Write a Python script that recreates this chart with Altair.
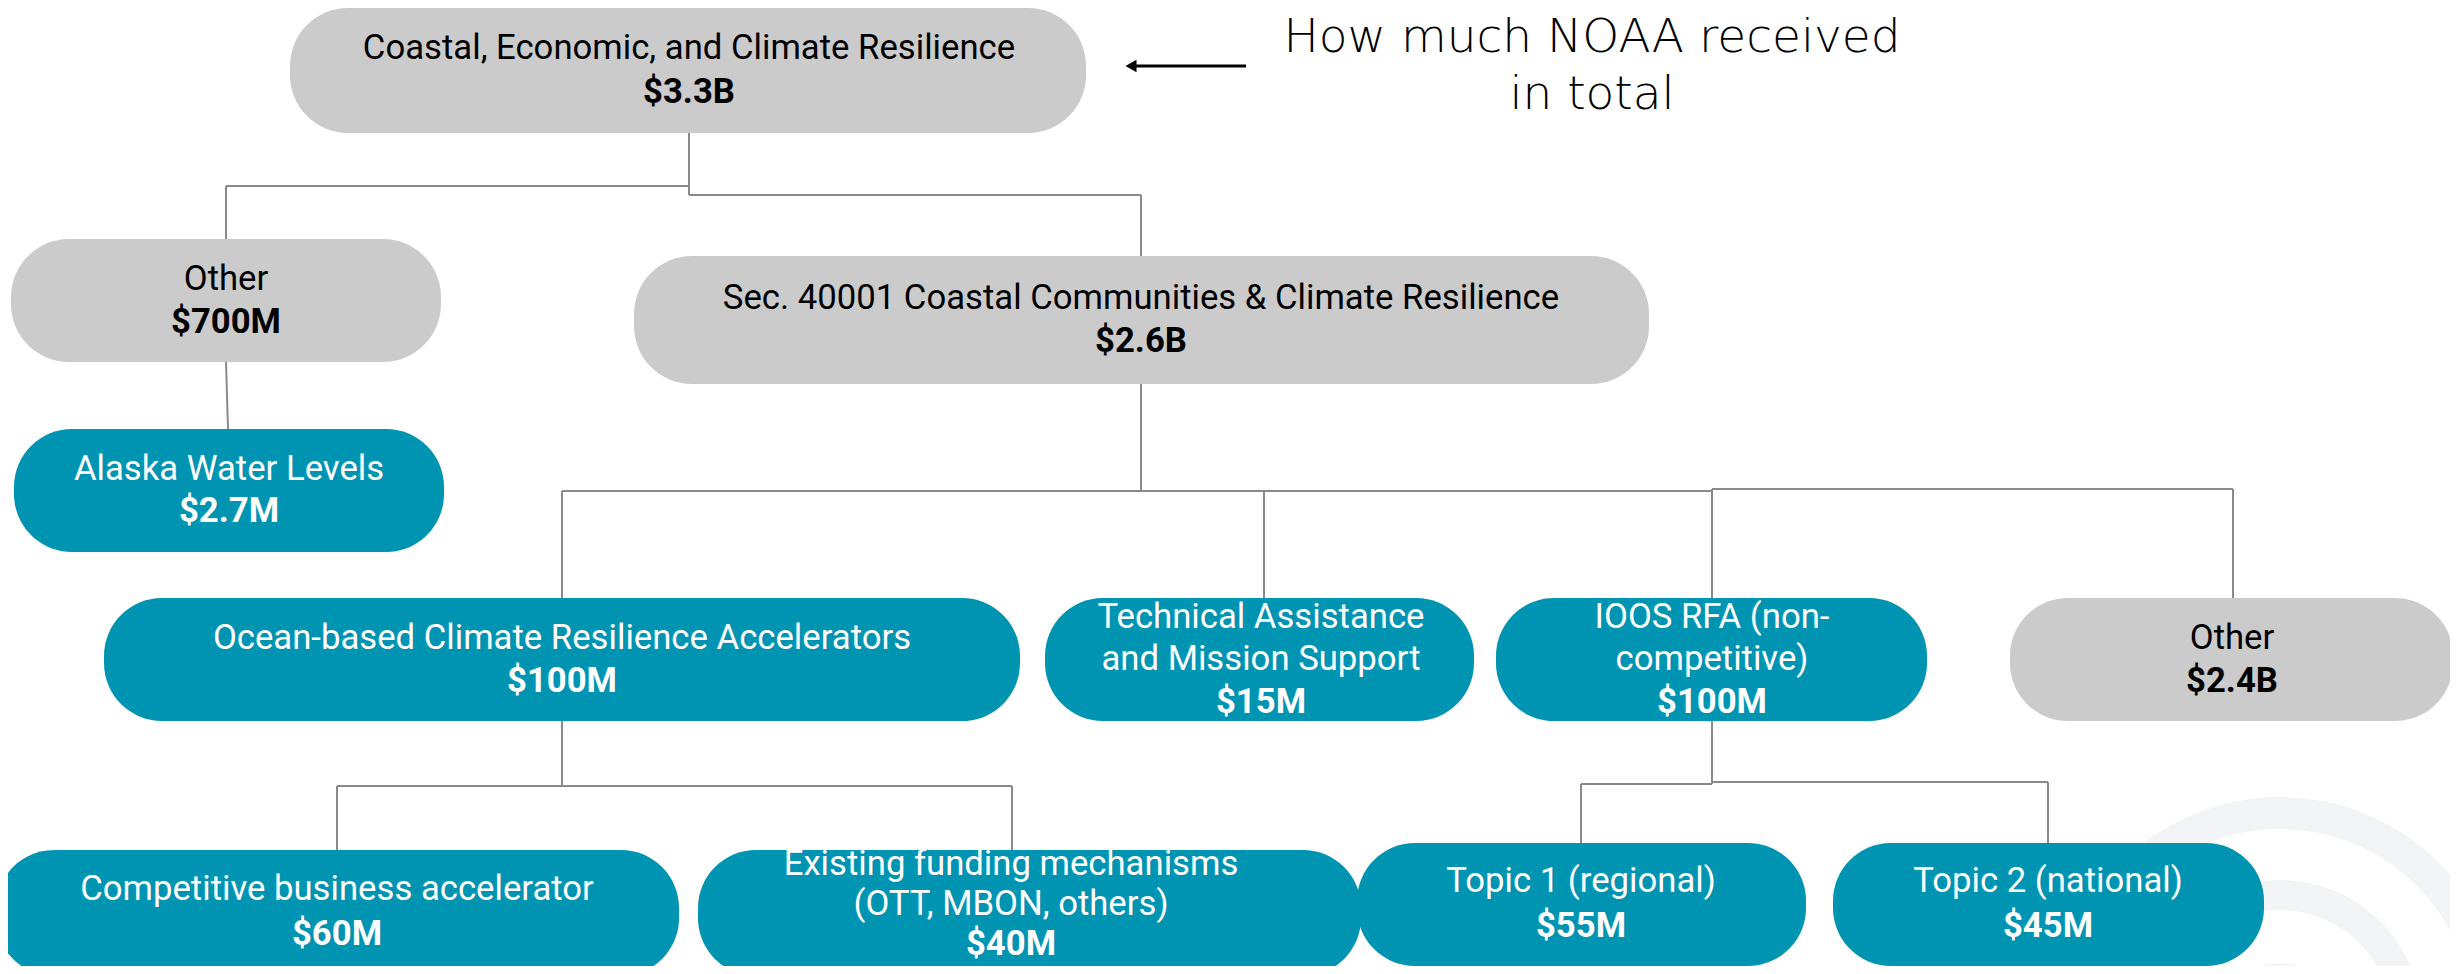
import altair as alt
import pandas as pd

# ---------------- data ----------------
node_titles = [
    "Coastal, Economic, and Climate Resilience",
    "Other",
    "Sec. 40001 Coastal Communities & Climate Resilience",
    "Alaska Water Levels",
    "Ocean-based Climate Resilience Accelerators",
    "Technical Assistance\nand Mission Support",
    "IOOS RFA (non-\ncompetitive)",
    "Other",
    "Competitive business accelerator",
    "Existing funding mechanisms\n(OTT, MBON, others)",
    "Topic 1 (regional)",
    "Topic 2 (national)",
]
node_values = ["$3.3B", "$700M", "$2.6B", "$2.7M", "$100M", "$15M",
               "$100M", "$2.4B", "$60M", "$40M", "$55M", "$45M"]
node_kind = ["gray", "gray", "gray", "teal", "teal", "teal",
             "teal", "gray", "teal", "teal", "teal", "teal"]
annotation_lines = ["How much NOAA received", "in total"]

# ---------------- layout (pixel positions of the diagram) ----------------
box_x0 = [290, 11, 634, 14, 104, 1045, 1496, 2010, -4, 698, 1357, 1833]
box_x1 = [1086, 441, 1649, 444, 1020, 1474, 1927, 2453, 679, 1361, 1806, 2264]
box_y0 = [8, 239, 256, 429, 598, 598, 598, 598, 850, 850, 843, 843]
box_y1 = [133, 362, 384, 552, 721, 721, 721, 721, 976, 976, 966, 966]
text_cx = [689, 226, 1141, 229, 562, 1261, 1712, 2232, 337, 1011, 1581, 2048]
text_cy = [71, 301, 320, 491, 660, 660, 660, 660, 912, 905, 904, 904]
line_h = [44, 43, 43, 42, 43, 42.5, 42.5, 43, 45, 40, 45, 45]

edges = [
    (689, 133, 689, 195), (689, 186, 226, 186), (226, 186, 226, 239),
    (689, 195, 1141, 195), (1141, 195, 1141, 256), (226, 362, 228, 429),
    (1141, 384, 1141, 491), (562, 491, 1712, 491), (1712, 489, 2233, 489),
    (562, 491, 562, 598), (1264, 491, 1264, 598), (1712, 489, 1712, 598),
    (2233, 489, 2233, 598), (562, 721, 562, 786), (337, 786, 1012, 786),
    (337, 786, 337, 850), (1012, 786, 1012, 850), (1712, 721, 1712, 784),
    (1581, 784, 1712, 784), (1712, 782, 2048, 782), (1581, 784, 1581, 843),
    (2048, 782, 2048, 843),
]

W, H = 2442, 958
xs = alt.Scale(domain=[8, 8 + W], nice=False, zero=False)
ys = alt.Scale(domain=[8, 8 + H], nice=False, zero=False, reverse=True)
FS = 34.7

boxes = pd.DataFrame({
    "x0": box_x0, "x1": box_x1, "y0": box_y0, "y1": box_y1, "kind": node_kind,
})

rows = []
for i, (t, v) in enumerate(zip(node_titles, node_values)):
    lines = t.split("\n") + [v]
    n = len(lines)
    for j, ln in enumerate(lines):
        rows.append({
            "x": text_cx[i],
            "y": text_cy[i] + (j - (n - 1) / 2) * line_h[i],
            "text": ln,
            "bold": j == n - 1,
            "kind": node_kind[i],
        })
texts = pd.DataFrame(rows)

seg = pd.DataFrame(edges, columns=["x", "y", "x2", "y2"])

rings = pd.DataFrame({"cx": [2280] * 3, "cy": [1022] * 3,
                      "r": [225, 142, 59], "r2": [193, 112, 29]})

ann = pd.DataFrame({"x": [1592, 1592], "y": [38, 95], "text": annotation_lines})
arrow = pd.DataFrame({"x": [1246], "x2": [1132], "y": [66]})
head = pd.DataFrame({"x": [1131], "y": [66]})

ring_layer = alt.Chart(rings).mark_arc(
    theta=4.712, theta2=7.854, color="#f3f4f5"
).encode(
    x=alt.X("cx:Q", scale=xs, axis=None),
    y=alt.Y("cy:Q", scale=ys, axis=None),
    radius=alt.Radius("r:Q", scale=None),
    radius2=alt.Radius2("r2:Q"),
)

edge_layer = alt.Chart(seg).mark_rule(color="#8a8a8a", strokeWidth=2).encode(
    x=alt.X("x:Q", scale=xs, axis=None), x2="x2:Q",
    y=alt.Y("y:Q", scale=ys, axis=None), y2="y2:Q",
)

box_layer = alt.Chart(boxes).mark_rect(cornerRadius=58).encode(
    x=alt.X("x0:Q", scale=xs, axis=None), x2="x1:Q",
    y=alt.Y("y0:Q", scale=ys, axis=None), y2="y1:Q",
    color=alt.Color("kind:N", scale=alt.Scale(domain=["gray", "teal"],
                                              range=["#cbcbcb", "#0094b3"]),
                    legend=None),
)

text_color = alt.condition("datum.kind == 'teal'", alt.value("white"), alt.value("black"))

title_layer = alt.Chart(texts).transform_filter("!datum.bold").mark_text(
    font="Roboto", fontSize=FS, baseline="middle", align="center"
).encode(
    x=alt.X("x:Q", scale=xs, axis=None), y=alt.Y("y:Q", scale=ys, axis=None),
    text="text:N", color=text_color,
)
value_layer = alt.Chart(texts).transform_filter("datum.bold").mark_text(
    font="Roboto", fontSize=FS, fontWeight="bold", baseline="middle", align="center"
).encode(
    x=alt.X("x:Q", scale=xs, axis=None), y=alt.Y("y:Q", scale=ys, axis=None),
    text="text:N", color=text_color,
)

ann_layer = alt.Chart(ann).mark_text(
    font="DejaVu Sans", fontWeight=200, fontSize=47, baseline="middle",
    align="center", color="black"
).encode(
    x=alt.X("x:Q", scale=xs, axis=None), y=alt.Y("y:Q", scale=ys, axis=None),
    text="text:N",
)

arrow_layer = alt.Chart(arrow).mark_rule(color="black", strokeWidth=3).encode(
    x=alt.X("x:Q", scale=xs, axis=None), x2="x2:Q",
    y=alt.Y("y:Q", scale=ys, axis=None),
)
head_layer = alt.Chart(head).mark_point(
    shape="triangle-left", filled=True, color="black", size=160, opacity=1
).encode(
    x=alt.X("x:Q", scale=xs, axis=None), y=alt.Y("y:Q", scale=ys, axis=None),
)

chart = alt.layer(
    ring_layer, edge_layer, box_layer, title_layer, value_layer,
    ann_layer, arrow_layer, head_layer
).properties(
    width=W, height=H, padding=0, autosize=alt.AutoSizeParams(type="none"),
    background="white",
).configure_view(stroke=None)

chart.save("out.html", embed_options={"renderer": "svg", "actions": False})
